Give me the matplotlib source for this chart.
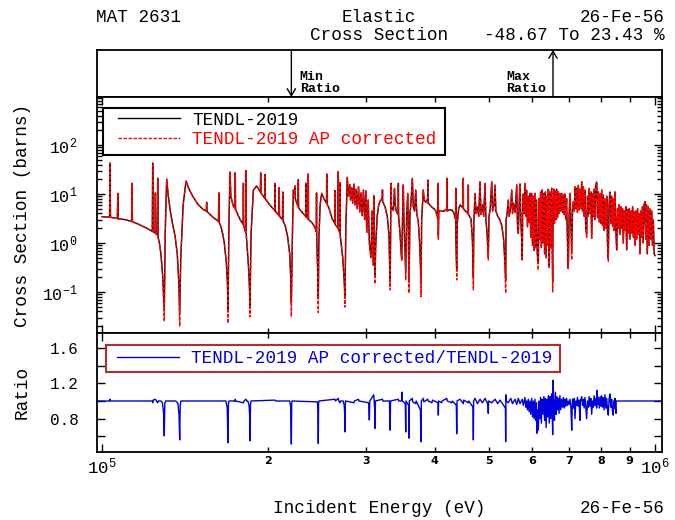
import numpy as np
import matplotlib
matplotlib.use('Agg')
import matplotlib.pyplot as plt
from matplotlib.ticker import LogLocator, FixedLocator, FuncFormatter, NullFormatter
from matplotlib.lines import Line2D
from matplotlib.patches import Rectangle

plt.rcParams['font.family'] = ['Liberation Mono', 'DejaVu Sans Mono']

# TENDL-2019 elastic cross section, (energy keV, barns)
tendl_points = [
    (100.0, 3.44), (103.2, 3.36), (103.4, 42.9), (103.6, 3.34), (106.6, 3.15), (106.8, 10.3),
    (107.0, 3.12), (110.0, 3.0), (113.1, 2.75), (113.3, 16.5), (113.5, 2.72), (117.0, 2.35),
    (120.5, 2.0), (123.3, 1.72), (123.5, 42.9), (123.7, 1.7), (124.7, 1.6), (124.9, 10.5),
    (125.1, 1.55), (125.9, 1.45), (126.1, 21.0), (126.3, 1.3), (127.0, 1.0), (127.8, 0.6),
    (128.8, 0.2), (129.6, 0.042), (130.1, 1.5), (130.9, 20.0), (131.8, 9.0), (132.9, 4.5),
    (134.2, 2.4), (135.6, 1.35), (136.8, 0.6), (137.7, 0.15), (138.2, 0.036), (138.8, 0.5),
    (140.2, 6.0), (141.9, 18.5), (143.5, 13.0), (145.9, 9.0), (149.0, 6.2), (152.1, 4.9),
    (154.4, 4.5), (154.6, 6.8), (154.8, 4.4), (158.5, 3.4), (162.4, 2.75), (162.6, 10.5),
    (162.8, 2.7), (164.0, 2.2), (165.5, 1.45), (166.4, 1.0), (167.8, 0.4), (168.6, 0.15),
    (169.0, 0.042), (169.6, 2.0), (170.4, 28.0), (171.0, 9.0), (172.5, 6.0), (174.0, 5.0),
    (174.2, 27.0), (174.4, 4.8), (177.7, 3.0), (180.0, 2.4), (180.2, 16.5), (180.4, 2.3),
    (182.0, 1.6), (182.2, 30.0), (182.4, 1.4), (184.0, 0.35), (184.8, 0.12), (185.2, 0.055),
    (186.0, 1.5), (187.8, 12.0), (190.4, 14.6), (192.0, 12.5), (193.4, 11.0), (193.6, 27.0),
    (193.8, 10.5), (196.9, 8.2), (197.1, 25.0), (197.3, 8.0), (201.0, 6.0), (205.3, 4.6),
    (205.5, 16.5), (205.7, 4.5), (209.0, 3.6), (209.2, 13.5), (209.4, 3.5), (212.0, 3.0),
    (212.2, 11.0), (212.4, 2.9), (214.5, 2.2), (216.5, 1.4), (218.5, 0.6), (219.4, 0.2),
    (220.0, 0.0604), (220.9, 1.2), (221.8, 12.1), (223.2, 9.5), (223.4, 14.6), (223.6, 8.0),
    (226.3, 5.5), (226.5, 19.6), (226.7, 5.3), (229.0, 4.5), (231.5, 3.9), (233.6, 3.5),
    (233.8, 16.5), (234.0, 3.4), (235.9, 3.1), (236.1, 25.6), (236.3, 3.0), (239.0, 2.7),
    (241.5, 2.3), (243.0, 2.0), (244.1, 1.7), (244.3, 10.5), (244.5, 1.3), (245.4, 0.3),
    (246.1, 0.073), (246.7, 1.2), (248.0, 6.0), (249.6, 10.3), (252.0, 8.0), (254.7, 6.5),
    (254.9, 25.6), (255.1, 6.3), (257.4, 5.1), (260.5, 3.2), (263.6, 2.5), (263.8, 11.7),
    (264.0, 2.4), (267.3, 2.0), (267.5, 28.5), (267.7, 1.9), (269.3, 1.6), (269.5, 17.0),
    (269.7, 1.4), (272.5, 0.5), (274.3, 0.15), (275.0, 0.075), (276.0, 2.0), (277.7, 21.9),
    (279.0, 9.0), (280.5, 15.5), (281.5, 7.5), (283.0, 13.5), (284.0, 6.5), (285.5, 16.0),
    (286.7, 6.0), (288.0, 12.5), (289.5, 5.0), (291.0, 14.0), (292.5, 4.3), (294.0, 10.5),
    (295.5, 3.6), (297.0, 12.0), (298.5, 3.0), (300.0, 11.7), (301.1, 1.65), (303.0, 7.5),
    (304.4, 1.1), (306.5, 0.5), (308.0, 4.5), (309.5, 0.35), (310.3, 9.2), (311.2, 0.6),
    (311.7, 0.21), (312.5, 0.8), (314.5, 3.5), (316.5, 6.0), (318.5, 7.2), (320.5, 7.9),
    (321.3, 7.5), (321.5, 12.1), (321.7, 7.0), (324.9, 5.5), (328.0, 3.5), (330.3, 1.5),
    (331.2, 0.4), (332.0, 0.16), (332.8, 3.0), (333.2, 16.5), (333.8, 5.5), (336.5, 4.6),
    (338.0, 13.0), (339.0, 6.0), (341.0, 4.2), (343.3, 3.8), (343.5, 16.5), (343.8, 3.5),
    (345.9, 1.58), (347.3, 0.7), (348.3, 0.45), (349.5, 3.0), (350.7, 15.3), (351.5, 3.0),
    (353.3, 0.6), (354.2, 0.26), (355.5, 3.5), (357.2, 10.3), (358.0, 2.0), (359.1, 0.16),
    (360.5, 4.0), (362.0, 6.5), (364.1, 20.9), (365.5, 5.5), (367.5, 4.5), (369.3, 12.1),
    (370.8, 4.0), (373.3, 2.7), (375.5, 0.9), (376.8, 0.3), (377.5, 0.148), (378.5, 3.0),
    (380.0, 7.0), (381.1, 12.1), (382.5, 7.5), (384.5, 6.8), (386.5, 7.5), (388.0, 6.5),
    (388.2, 19.3), (388.4, 6.8), (391.5, 6.0), (394.7, 5.4), (398.5, 5.0), (401.5, 4.5),
    (403.0, 3.8), (405.2, 3.0), (405.5, 16.5), (405.7, 1.4), (406.5, 4.5), (409.0, 4.6),
    (411.5, 4.5), (415.0, 4.4), (418.0, 4.8), (420.0, 4.6), (420.2, 20.9), (420.4, 4.5),
    (424.0, 4.7), (429.0, 4.7), (432.5, 4.2), (436.0, 3.0), (436.2, 13.1), (436.4, 1.5),
    (437.2, 0.5), (438.0, 0.28), (439.0, 2.5), (441.5, 5.0), (444.1, 6.0), (447.0, 5.5),
    (450.0, 5.2), (450.2, 20.9), (450.4, 5.0), (454.0, 4.5), (457.0, 4.2), (459.5, 3.9),
    (459.7, 15.3), (459.9, 3.8), (462.5, 3.4), (464.9, 3.1), (467.5, 1.2), (468.7, 0.4),
    (469.4, 0.2), (470.3, 2.5), (472.7, 10.3), (474.5, 4.0), (477.5, 5.5), (480.0, 3.5),
    (482.6, 17.8), (484.5, 3.8), (487.5, 6.0), (490.0, 3.5), (492.8, 16.5), (494.5, 3.0),
    (497.0, 1.6), (499.5, 0.52), (501.0, 3.5), (503.5, 5.0), (506.7, 17.8), (508.5, 4.5),
    (511.5, 6.0), (513.7, 15.3), (515.5, 4.5), (519.5, 3.5), (524.5, 2.95), (528.5, 2.2),
    (532.5, 1.2), (535.3, 0.4), (537.0, 0.17), (538.0, 3.0), (540.5, 4.2), (542.9, 7.5),
    (545.0, 3.5), (548.5, 5.5), (550.7, 12.1), (552.5, 4.0), (555.0, 6.5), (558.5, 4.2),
    (562.3, 15.3), (564.0, 2.5), (566.0, 1.58), (568.0, 6.0), (570.0, 16.0), (572.0, 3.0),
    (574.0, 1.2), (575.4, 0.45), (576.4, 5.0), (578.0, 10.0), (580.0, 4.0), (581.9, 16.5),
    (584.0, 3.5), (586.0, 12.0), (588.0, 2.15), (590.0, 9.0), (592.0, 2.6), (594.0, 10.3),
    (596.0, 1.3), (598.4, 10.3), (600.5, 0.9), (602.5, 9.0), (604.5, 0.7), (606.7, 10.3),
    (608.5, 0.8), (610.5, 7.5), (612.5, 0.6), (615.2, 0.42), (617.0, 8.0), (619.0, 1.2),
    (621.0, 11.0), (623.0, 0.8), (625.0, 12.1), (627.0, 1.0), (629.5, 10.3), (631.5, 0.6),
    (633.5, 11.0), (635.5, 0.5), (637.5, 9.0), (639.5, 0.9), (641.5, 12.5), (643.0, 0.5),
    (644.0, 0.32), (646.0, 11.0), (648.0, 0.8), (650.5, 13.1), (652.0, 0.6), (653.1, 0.16),
    (654.0, 3.0), (656.0, 12.5), (658.0, 2.5), (660.5, 11.5), (662.5, 3.0), (664.1, 12.5),
    (666.5, 3.3), (668.5, 11.0), (670.5, 4.0), (673.0, 10.3), (675.5, 4.5), (678.2, 10.3),
    (680.5, 4.2), (683.0, 9.5), (685.0, 3.8), (687.6, 10.0), (689.5, 3.0), (692.0, 8.0),
    (694.5, 1.2), (697.0, 0.3), (699.5, 4.0), (702.0, 10.3), (704.5, 2.5), (707.0, 0.67),
    (709.5, 5.0), (712.0, 7.0), (714.5, 4.5), (716.8, 14.0), (719.0, 5.0), (721.5, 13.0),
    (724.0, 4.2), (726.7, 15.0), (729.0, 4.7), (731.5, 12.5), (734.0, 5.0), (737.0, 17.8),
    (739.5, 4.5), (742.0, 14.0), (744.5, 3.5), (747.0, 12.0), (749.5, 2.0), (752.3, 1.55),
    (755.0, 9.0), (757.5, 3.5), (760.0, 13.0), (763.0, 4.0), (765.5, 11.0), (768.2, 1.25),
    (771.0, 10.0), (773.5, 3.5), (776.0, 12.5), (778.5, 3.0), (781.0, 15.0), (784.4, 17.5),
    (787.0, 3.3), (790.0, 11.0), (793.0, 2.7), (796.0, 10.0), (798.5, 2.5), (800.9, 12.1),
    (803.5, 2.3), (806.0, 9.5), (809.0, 1.8), (812.0, 8.0), (815.0, 2.0), (818.0, 9.0),
    (820.5, 1.0), (823.3, 0.5), (826.0, 6.0), (829.0, 11.0), (832.0, 2.5), (835.0, 9.0),
    (838.0, 2.2), (841.0, 8.0), (843.5, 1.8), (846.6, 11.0), (849.5, 2.0), (852.5, 0.72),
    (855.5, 5.0), (858.5, 2.0), (861.0, 6.0), (864.4, 1.5), (867.5, 5.5), (870.5, 2.0),
    (873.5, 5.0), (876.5, 1.0), (879.5, 4.5), (882.5, 1.8), (885.5, 5.5), (888.8, 0.72),
    (892.0, 4.8), (895.0, 1.6), (898.0, 5.0), (901.2, 1.2), (904.5, 4.5), (907.5, 1.6),
    (911.0, 5.5), (914.0, 1.3), (917.0, 4.3), (920.1, 0.9), (923.5, 4.5), (926.5, 1.2),
    (930.0, 5.0), (933.0, 1.5), (936.0, 4.0), (939.5, 0.6), (943.0, 4.5), (946.0, 1.3),
    (949.0, 5.5), (952.0, 1.0), (955.5, 6.0), (959.2, 7.0), (962.0, 1.2), (965.5, 6.0),
    (968.5, 0.6), (972.5, 5.5), (975.5, 0.9), (979.0, 5.0), (982.5, 1.2), (986.3, 4.5),
    (989.5, 0.9), (993.0, 3.0), (996.5, 0.6), (1000.0, 0.55),
]

# AP corrected values where they differ from TENDL-2019 (keV: barns)
ap_corrected = {
    129.6: 0.025, 138.2: 0.02, 169.0: 0.023, 185.2: 0.031, 220.0: 0.031, 246.1: 0.038,
    275.0: 0.049, 304.4: 0.86, 311.7: 0.146, 332.0: 0.11, 354.2: 0.176, 359.1: 0.094,
    377.5: 0.08, 405.7: 1.15, 438.0: 0.176, 469.4: 0.11, 499.5: 0.45, 537.0: 0.094,
    615.2: 0.28, 653.1: 0.1, 654.0: 3.7, 707.0: 0.45, 752.3: 1.25, 823.3: 0.42,
}

# ratio AP corrected / TENDL-2019, (energy keV, ratio)
ratio_points = [
    (95.0, 1.0), (103.2, 1.0), (103.4, 1.02), (103.6, 1.0), (123.3, 1.0), (123.5, 0.98),
    (123.7, 1.01), (124.9, 1.02), (125.5, 1.0), (126.1, 0.98), (126.5, 1.0), (127.8, 1.0),
    (128.6, 0.98), (129.2, 0.88), (129.6, 0.605), (129.9, 0.97), (130.3, 1.0), (136.0, 1.0),
    (137.2, 0.97), (137.8, 0.85), (138.2, 0.56), (138.5, 0.96), (138.9, 1.0), (167.5, 1.0),
    (168.4, 0.93), (169.0, 0.53), (169.3, 0.97), (169.7, 1.0), (174.0, 1.0), (174.2, 1.02),
    (174.4, 1.0), (180.2, 0.98), (180.6, 1.0), (182.2, 1.02), (182.6, 1.0), (183.5, 1.0),
    (184.4, 0.96), (184.9, 0.85), (185.2, 0.55), (185.6, 0.97), (186.0, 1.0), (205.5, 1.01),
    (206.0, 1.0), (218.5, 1.0), (219.4, 0.93), (220.0, 0.5133), (220.3, 0.97), (220.7, 1.0),
    (245.2, 0.99), (245.8, 0.9), (246.1, 0.52), (246.4, 0.97), (246.8, 1.0), (263.8, 1.02),
    (264.2, 1.0), (267.5, 1.03), (268.0, 1.0), (269.5, 0.98), (270.0, 1.0), (273.0, 1.0),
    (274.2, 0.95), (274.7, 0.85), (275.0, 0.65), (275.4, 0.96), (275.8, 1.0), (285.5, 0.98),
    (286.0, 1.0), (291.0, 1.02), (291.5, 1.0), (303.5, 0.98), (304.4, 0.785), (305.0, 1.0),
    (310.0, 1.07), (310.6, 1.0), (311.2, 0.9), (311.7, 0.69), (312.2, 1.0), (321.5, 1.02),
    (322.0, 1.0), (331.0, 1.0), (332.0, 0.67), (332.5, 1.0), (343.5, 1.02), (344.0, 1.0),
    (348.3, 1.0), (348.8, 1.10), (349.3, 1.0), (353.5, 0.97), (354.2, 0.65), (354.6, 1.0),
    (358.5, 0.95), (359.1, 0.58), (359.5, 1.0), (364.1, 1.03), (364.5, 0.99), (369.3, 0.97),
    (370.0, 1.0), (376.5, 0.9), (377.5, 0.54), (378.0, 1.0), (381.0, 1.03), (382.0, 0.99),
    (388.2, 1.02), (389.0, 1.0), (395.0, 0.98), (396.0, 1.01), (405.2, 0.98), (405.7, 0.84),
    (406.2, 1.0), (411.5, 0.98), (412.0, 1.0), (420.2, 1.03), (421.0, 1.0), (429.0, 0.98),
    (430.0, 1.0), (437.3, 0.95), (438.0, 0.63), (438.5, 1.0), (444.1, 1.02), (450.2, 0.97),
    (451.0, 1.01), (459.7, 0.98), (460.5, 1.0), (468.7, 0.93), (469.4, 0.56), (469.9, 1.0),
    (472.7, 1.03), (477.5, 0.97), (482.6, 1.02), (487.5, 0.98), (492.8, 1.03), (498.9, 0.96),
    (499.5, 0.86), (500.0, 1.0), (506.7, 0.98), (513.7, 1.02), (519.5, 0.97), (524.5, 1.01),
    (530.0, 0.97), (536.4, 0.92), (537.0, 0.54), (537.6, 1.07), (538.2, 1.0), (542.9, 0.98),
    (548.5, 1.03), (552.5, 0.97), (558.5, 1.02), (562.3, 0.96), (566.0, 1.03), (570.0, 0.97),
    (575.4, 1.02), (578.0, 0.95), (581.9, 1.04), (584.0, 0.93), (586.0, 1.0), (588.0, 0.9),
    (590.0, 1.02), (592.0, 0.88), (594.0, 1.0), (596.0, 0.85), (598.4, 1.03), (600.5, 0.82),
    (602.5, 1.0), (604.5, 0.8), (606.7, 1.02), (608.5, 0.78), (610.5, 0.98), (611.5, 0.635),
    (612.5, 0.9), (615.2, 0.67), (617.0, 1.0), (619.0, 0.8), (621.0, 1.04), (623.0, 0.75),
    (625.0, 1.02), (627.0, 0.85), (629.5, 1.05), (631.5, 0.78), (633.5, 1.03), (635.5, 0.7),
    (637.5, 1.02), (639.5, 0.82), (641.5, 1.06), (643.0, 0.88), (644.0, 0.75), (646.0, 1.05),
    (648.0, 0.8), (650.5, 1.08), (652.0, 0.85), (653.1, 0.62), (654.0, 1.2343), (656.0, 0.95),
    (658.0, 0.78), (660.5, 1.1), (662.5, 0.85), (664.1, 1.05), (666.5, 0.9), (668.5, 1.03),
    (670.5, 0.86), (673.0, 1.06), (675.5, 0.9), (678.2, 1.02), (680.5, 0.93), (683.0, 1.04),
    (685.0, 0.92), (687.6, 1.02), (689.5, 0.94), (692.0, 1.03), (694.5, 0.95), (697.0, 1.0),
    (699.5, 0.96), (702.0, 1.02), (704.5, 0.93), (707.0, 0.67), (708.5, 0.95), (709.5, 1.02),
    (712.0, 0.92), (714.5, 1.03), (716.8, 0.8), (719.0, 1.0), (721.5, 0.95), (724.0, 1.04),
    (726.7, 0.94), (729.0, 1.01), (731.5, 0.78), (733.0, 1.0), (737.0, 1.05), (739.5, 0.95),
    (742.0, 1.02), (744.5, 0.92), (747.0, 1.04), (749.5, 0.94), (752.3, 0.80), (755.0, 1.0),
    (757.5, 0.93), (760.0, 1.05), (763.0, 0.94), (765.5, 1.03), (768.2, 0.85), (771.0, 1.0),
    (773.5, 0.93), (776.0, 1.06), (778.5, 0.95), (781.0, 1.03), (784.4, 0.92), (786.0, 1.12),
    (787.5, 0.96), (790.0, 1.04), (793.0, 0.92), (796.0, 1.05), (798.5, 0.94), (800.9, 1.06),
    (803.5, 0.93), (806.0, 1.04), (809.0, 0.9), (812.0, 1.07), (815.0, 0.92), (818.0, 1.03),
    (820.5, 0.9), (823.3, 0.84), (826.0, 1.02), (829.0, 1.08), (832.0, 0.93), (835.0, 1.02),
    (837.5, 0.89), (840.5, 0.84), (842.0, 1.0), (843.5, 0.92), (846.6, 1.03), (848.5, 0.9),
    (850.0, 0.86), (850.8, 1.0), (1050.0, 1.0),
]

e_kev, xs_tendl = map(np.array, zip(*tendl_points))
xs_ap = np.array([ap_corrected.get(e, v) for e, v in tendl_points])
r_kev, ratio = map(np.array, zip(*ratio_points))
energy = e_kev * 1e3
r_energy = r_kev * 1e3

i_min, i_max = np.argmin(ratio), np.argmax(ratio)
e_min, e_max = r_energy[i_min], r_energy[i_max]
range_text = '%.2f To %.2f %%' % ((ratio[i_min] - 1) * 100, (ratio[i_max] - 1) * 100)

blue = '#0000dd'
xlim = (9.794e4, 1.0296e6)
figure = plt.figure(figsize=(6.75, 5.2), dpi=100)
left, width = 97 / 675, 565 / 675
axTop = figure.add_axes([left, 0.8135, width, 0.0904])
axMain = figure.add_axes([left, 0.3596, width, 0.4538])
axRatio = figure.add_axes([left, 0.1308, width, 0.2288])

for ax in (axTop, axMain, axRatio):
    ax.set_xscale('log')
    ax.set_xlim(*xlim)
    for s in ax.spines.values():
        s.set_linewidth(1.3)

# top box with min / max ratio markers
axTop.set_ylim(0, 1)
axTop.set_xticks([])
axTop.set_yticks([])
axTop.xaxis.set_minor_locator(FixedLocator([]))
arrow = dict(arrowstyle='->,head_length=0.5,head_width=0.3', lw=1.0, color='black',
             shrinkA=0, shrinkB=0)
axTop.annotate('', xy=(e_min, 0), xytext=(e_min, 1),
               xycoords=('data', 'axes fraction'), arrowprops=arrow)
axTop.annotate('', xy=(e_max, 1), xytext=(e_max, 0),
               xycoords=('data', 'axes fraction'), arrowprops=arrow)
axTop.annotate('Min\nRatio', xy=(e_min, 0.04), xycoords=('data', 'axes fraction'),
               xytext=(6, 0), textcoords='offset points', ha='left', va='bottom',
               fontsize=9.5, fontweight='bold', linespacing=1.0)
axTop.annotate('Max\nRatio', xy=(e_max, 0.04), xycoords=('data', 'axes fraction'),
               xytext=(-5, 0), textcoords='offset points', ha='right', va='bottom',
               multialignment='left', fontsize=9.5, fontweight='bold', linespacing=1.0)

# cross sections
axMain.plot(energy, xs_tendl, color='black', lw=1.0)
axMain.plot(energy, xs_ap, color='red', lw=1.0, dashes=(2.5, 1.1))
axMain.set_yscale('log')
axMain.set_ylim(0.0145, 955)
axMain.yaxis.set_major_locator(LogLocator(base=10, numticks=12))
axMain.yaxis.set_minor_locator(LogLocator(base=10, subs=np.arange(2, 10), numticks=12))
axMain.yaxis.set_minor_formatter(NullFormatter())
axMain.yaxis.set_major_formatter(FuncFormatter(
    lambda v, p: r'$\mathregular{10^{%d}}$' % int(round(np.log10(v)))))
axMain.xaxis.set_major_formatter(NullFormatter())
axMain.xaxis.set_minor_formatter(NullFormatter())
axMain.add_patch(Rectangle((0.0106, 0.754), 0.6053, 0.199, transform=axMain.transAxes,
                           facecolor='white', edgecolor='black', lw=1.5, zorder=4))
axMain.legend(handles=[Line2D([], [], color='black', lw=1.0),
                       Line2D([], [], color='red', lw=1.0, dashes=(2.5, 1.1))],
              labels=['TENDL-2019', 'TENDL-2019 AP corrected'],
              loc='upper left', bbox_to_anchor=(0.0372, 0.938), borderaxespad=0,
              borderpad=0, fontsize=12.7, handlelength=3.5, handletextpad=0.7,
              labelspacing=0.15, frameon=False, labelcolor='linecolor').set_zorder(5)

# ratio panel
axRatio.plot(r_energy, ratio, color=blue, lw=1.0)
axRatio.set_ylim(0.424, 1.768)
axRatio.yaxis.set_major_locator(FixedLocator([0.6, 0.8, 1.0, 1.2, 1.4, 1.6]))
axRatio.yaxis.set_major_formatter(FuncFormatter(
    lambda v, p: '%.1f' % v if round(v, 1) in (0.8, 1.2, 1.6) else ''))
axRatio.xaxis.set_major_locator(FixedLocator([1e5, 1e6]))
axRatio.xaxis.set_major_formatter(FuncFormatter(
    lambda v, p: r'$\mathregular{10^{%d}}$' % int(round(np.log10(v)))))
axRatio.xaxis.set_minor_locator(LogLocator(base=10, subs=np.arange(2, 10), numticks=12))
axRatio.xaxis.set_minor_formatter(FuncFormatter(
    lambda v, p: '%d' % round(v / 10 ** np.floor(np.log10(v) + 1e-9))))
axRatio.add_patch(Rectangle((0.0159, 0.672), 0.8036, 0.227, transform=axRatio.transAxes,
                            facecolor='white', edgecolor='#b03030', lw=1.5, zorder=4))
axRatio.legend(handles=[Line2D([], [], color=blue, lw=1.0)],
               labels=['TENDL-2019 AP corrected/TENDL-2019'],
               loc='center left', bbox_to_anchor=(0.0354, 0.787), borderaxespad=0,
               borderpad=0, fontsize=12.7, handlelength=3.5, handletextpad=0.7,
               frameon=False, labelcolor='linecolor').set_zorder(5)

for ax in (axMain, axRatio):
    ax.tick_params(which='both', direction='in', top=True, right=True, width=1.0)
    ax.tick_params(which='major', length=6)
    ax.tick_params(which='minor', length=3.5)
axMain.tick_params(axis='y', which='major', labelsize=12, pad=14)
axRatio.tick_params(axis='y', which='major', labelsize=11.5, pad=13)
axRatio.tick_params(axis='x', which='major', labelsize=12.5, pad=3)
axRatio.tick_params(axis='x', which='minor', labelsize=8, pad=3)

# header / footer texts
figure.text(96 / 675, 0.967, 'MAT 2631', ha='left', va='center', fontsize=12.7)
figure.text(0.5615, 0.967, 'Elastic', ha='center', va='center', fontsize=12.7)
figure.text(0.5615, 0.931, 'Cross Section', ha='center', va='center', fontsize=12.7)
figure.text(0.9852, 0.967, '26-Fe-56', ha='right', va='center', fontsize=12.7)
figure.text(0.9852, 0.931, range_text, ha='right', va='center', fontsize=12.7)
figure.text(0.5622, 0.023, 'Incident Energy (eV)', ha='center', va='center', fontsize=12.7)
figure.text(0.9852, 0.023, '26-Fe-56', ha='right', va='center', fontsize=12.7)
figure.text(0.0326, 0.5865, 'Cross Section (barns)', rotation=90, ha='center',
            va='center', fontsize=12.7)
figure.text(0.0326, 0.246, 'Ratio', rotation=90, ha='center', va='center', fontsize=12.7)

figure.canvas.draw()
for tick in axRatio.xaxis.get_minor_ticks():
    tick.label1.set_fontweight('bold')
    tick.label1.set_fontfamily('DejaVu Sans')

figure.savefig('out.png', dpi=100)
